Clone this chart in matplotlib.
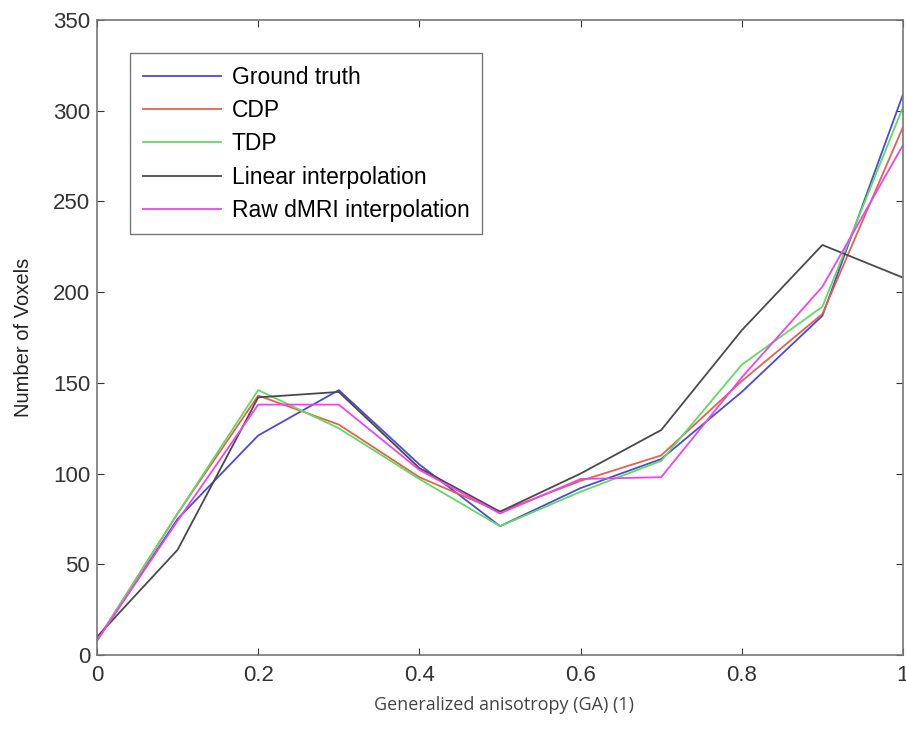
import matplotlib
matplotlib.use("Agg")
import matplotlib.pyplot as plt

ga = [0.0, 0.1, 0.2, 0.3, 0.4, 0.5, 0.6, 0.7, 0.8, 0.9, 1.0]
ground_truth = [8, 75, 121, 146, 105, 71, 92, 108, 145, 187, 309]
cdp = [8, 78, 143, 127, 98, 79, 96, 110, 151, 188, 291]
tdp = [8, 78, 146, 125, 97, 71, 90, 107, 160, 192, 302]
linear = [10, 58, 142, 145, 103, 79, 100, 124, 179, 226, 208]
raw_dmri = [8, 74, 138, 138, 102, 78, 97, 98, 153, 203, 281]

series = [
    ("Ground truth", ground_truth, "#4a4ad8"),
    ("CDP", cdp, "#e8604c"),
    ("TDP", tdp, "#5fdc5f"),
    ("Linear interpolation", linear, "#4a4a4a"),
    ("Raw dMRI interpolation", raw_dmri, "#ee44ee"),
]

plt.rcParams["font.family"] = ["Liberation Sans", "DejaVu Sans"]

fig = plt.figure(figsize=(9.06, 7.34), dpi=100)
ax = fig.add_axes([97 / 906, 1 - 655 / 734, 806 / 906, 635 / 734])

for name, vals, colour in series:
    ax.plot(ga, vals, color=colour, lw=1.3, label=name)

ax.set_xlim(0, 1)
ax.set_ylim(0, 350)
ax.set_xticks([0, 0.2, 0.4, 0.6, 0.8, 1])
ax.set_xticklabels(["0", "0.2", "0.4", "0.6", "0.8", "1"])
ax.set_yticks(range(0, 351, 50))
ax.tick_params(direction="in", top=True, right=True, labelsize=16,
               colors="#333333", length=5)
ax.tick_params(axis="x", pad=7)
ax.tick_params(axis="y", pad=5)
for s in ax.spines.values():
    s.set_color("#777777")
    s.set_linewidth(1.2)

ax.set_ylabel("Number of Voxels", fontsize=14.5, color="#222222")
ax.yaxis.set_label_coords(-64 / 806, 0.5)
fig.text(504 / 906, 1 - 705 / 734, "Generalized anisotropy (GA) (1)",
         ha="center", va="center", fontsize=13, color="#444444",
         family=["Open Sans", "DejaVu Sans"])

leg = ax.legend(loc="upper left", bbox_to_anchor=(33 / 806, 602 / 635),
                fontsize=16.5, frameon=True, fancybox=False, handlelength=3.4,
                handletextpad=0.5, borderpad=0.55, labelspacing=0.45,
                borderaxespad=0)
leg.get_frame().set_edgecolor("#555555")
leg.get_frame().set_linewidth(1.0)

fig.savefig("out.png", dpi=100)
